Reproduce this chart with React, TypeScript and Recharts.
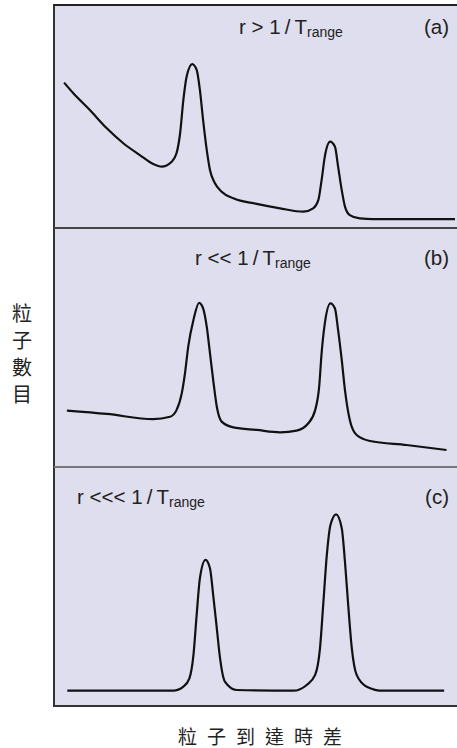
import React from 'react';
import { LineChart, Line, XAxis, YAxis } from 'recharts';

// arrival time difference (0-100 across the panel) and particle count (0-100 of panel height)
const timeA = [2.5, 4.8, 8.9, 13.1, 17.2, 21.3, 24.6, 26.7, 29.2, 30.4, 31.3, 32.1, 32.9, 34.3, 35.4, 36.2, 37.0, 37.9, 38.7, 39.9, 41.6, 44.5, 50.3, 56.1, 61.9, 64.3, 65.6, 66.4, 67.2, 68.5, 69.7, 70.5, 71.4, 72.2, 73.4, 75.9, 79.2, 99.5];
const countA = [65.2, 60.4, 52.9, 44.7, 38.0, 32.7, 28.7, 27.5, 29.7, 33.5, 42.6, 57.4, 67.8, 73.5, 70.9, 61.9, 48.4, 35.0, 26.0, 20.2, 16.3, 13.3, 10.8, 8.8, 7.3, 8.8, 12.6, 21.5, 32.0, 38.7, 36.5, 27.5, 17.0, 9.6, 5.8, 4.3, 4.0, 4.0];

const timeB = [3.2, 13.1, 24.6, 28.8, 30.4, 31.7, 32.5, 33.3, 34.6, 36.0, 37.0, 37.9, 38.7, 39.5, 40.4, 41.6, 44.5, 50.3, 56.1, 60.2, 63.1, 64.8, 65.8, 66.4, 67.2, 68.6, 69.7, 70.5, 71.4, 72.2, 73.4, 75.1, 78.4, 87.5, 97.4];
const countB = [23.6, 22.2, 20.0, 21.0, 23.8, 30.8, 39.2, 50.3, 61.5, 68.7, 66.4, 58.7, 47.6, 36.4, 25.2, 19.0, 16.6, 15.5, 14.5, 15.2, 18.3, 23.8, 33.6, 47.6, 60.1, 68.5, 66.4, 57.3, 44.8, 32.2, 19.7, 13.4, 10.9, 9.2, 7.1];

const timeC = [3.3, 29.6, 32.1, 33.6, 34.6, 35.4, 36.2, 37.6, 38.7, 39.5, 40.4, 41.2, 42.4, 45.3, 59.4, 62.7, 64.8, 66.0, 66.8, 67.7, 68.6, 70.0, 71.4, 72.2, 73.0, 73.9, 75.1, 77.6, 81.7, 96.8];
const countC = [6.4, 6.4, 8.1, 11.6, 21.3, 38.1, 53.4, 61.1, 57.6, 46.4, 32.5, 20.0, 10.2, 6.7, 6.4, 8.8, 13.0, 24.1, 42.3, 63.2, 75.7, 80.2, 74.4, 60.4, 42.3, 24.1, 13.0, 8.1, 6.4, 6.4];

const panelLabels = ['r > 1\u2009/\u2009T', 'r << 1\u2009/\u2009T', 'r <<< 1\u2009/\u2009T'];
const panelTags = ['(a)', '(b)', '(c)'];
const subscript = 'range';
const yTitle = ['粒', '子', '數', '目'];
const xTitle = '粒子到達時差';

const build = (t: number[], c: number[]) => t.map((x, i) => ({ x, count: c[i] }));

const series = [build(timeA, countA), build(timeB, countB), build(timeC, countC)];

const panels = [
  { top: 5, height: 223, labelLeft: 239, labelTop: 35 },
  { top: 228, height: 239, labelLeft: 195, labelTop: 266 },
  { top: 467, height: 239, labelLeft: 77, labelTop: 505 },
];

const LEFT = 54;
const WIDTH = 457 - LEFT;
const BG = '#dfdeee';
const font = '"Liberation Sans", Arial, sans-serif';
const cjk = '"Noto Sans CJK TC", "Noto Sans CJK SC", sans-serif';

const App: React.FC = () => {
  return (
    <div style={{ position: 'absolute', left: 0, top: 0, width: 457, height: 748, background: '#fff', overflow: 'hidden' }}>
      {panels.map((p, i) => (
        <div key={i} style={{ position: 'absolute', left: LEFT, top: p.top, width: WIDTH, height: p.height, background: BG }}>
          <LineChart width={WIDTH} height={p.height} data={series[i]} margin={{ top: 0, right: 0, bottom: 0, left: 0 }}>
            <XAxis dataKey="x" type="number" domain={[0, 100]} hide />
            <YAxis type="number" domain={[0, 100]} hide />
            <Line type="monotone" dataKey="count" stroke="#111" strokeWidth={2.2} dot={false} isAnimationActive={false} />
          </LineChart>
        </div>
      ))}

      {/* frame lines */}
      <div style={{ position: 'absolute', left: LEFT - 1, top: 4, width: 2, height: 703, background: '#333' }} />
      <div style={{ position: 'absolute', left: LEFT, top: 4, width: WIDTH, height: 2, background: '#222' }} />
      <div style={{ position: 'absolute', left: LEFT, top: 227, width: WIDTH, height: 2, background: '#444' }} />
      <div style={{ position: 'absolute', left: LEFT, top: 466, width: WIDTH, height: 2, background: '#777' }} />
      <div style={{ position: 'absolute', left: LEFT, top: 705, width: WIDTH, height: 2, background: '#333' }} />

      {/* panel labels */}
      {panels.map((p, i) => (
        <React.Fragment key={'l' + i}>
          <div style={{ position: 'absolute', left: p.labelLeft, top: p.labelTop - 18, fontFamily: font, fontSize: 20.5, lineHeight: '20px', color: '#222', whiteSpace: 'nowrap' }}>
            {panelLabels[i]}
            <span style={{ fontSize: 14, position: 'relative', top: 3 }}>{subscript}</span>
          </div>
          <div style={{ position: 'absolute', right: 8, top: p.labelTop - 18, fontFamily: font, fontSize: 20.5, lineHeight: '20px', color: '#222' }}>
            {panelTags[i]}
          </div>
        </React.Fragment>
      ))}

      {/* axis titles */}
      <div style={{ position: 'absolute', left: 12, top: 299, width: 20, fontFamily: cjk, fontSize: 20, lineHeight: '27px', color: '#222', textAlign: 'center' }}>
        {yTitle.map((ch) => (
          <div key={ch}>{ch}</div>
        ))}
      </div>
      <div style={{ position: 'absolute', left: 5, width: 520, top: 722, fontFamily: cjk, fontSize: 19, lineHeight: '28px', color: '#222', textAlign: 'center', letterSpacing: 10 }}>
        {xTitle}
      </div>
    </div>
  );
};

export default App;
